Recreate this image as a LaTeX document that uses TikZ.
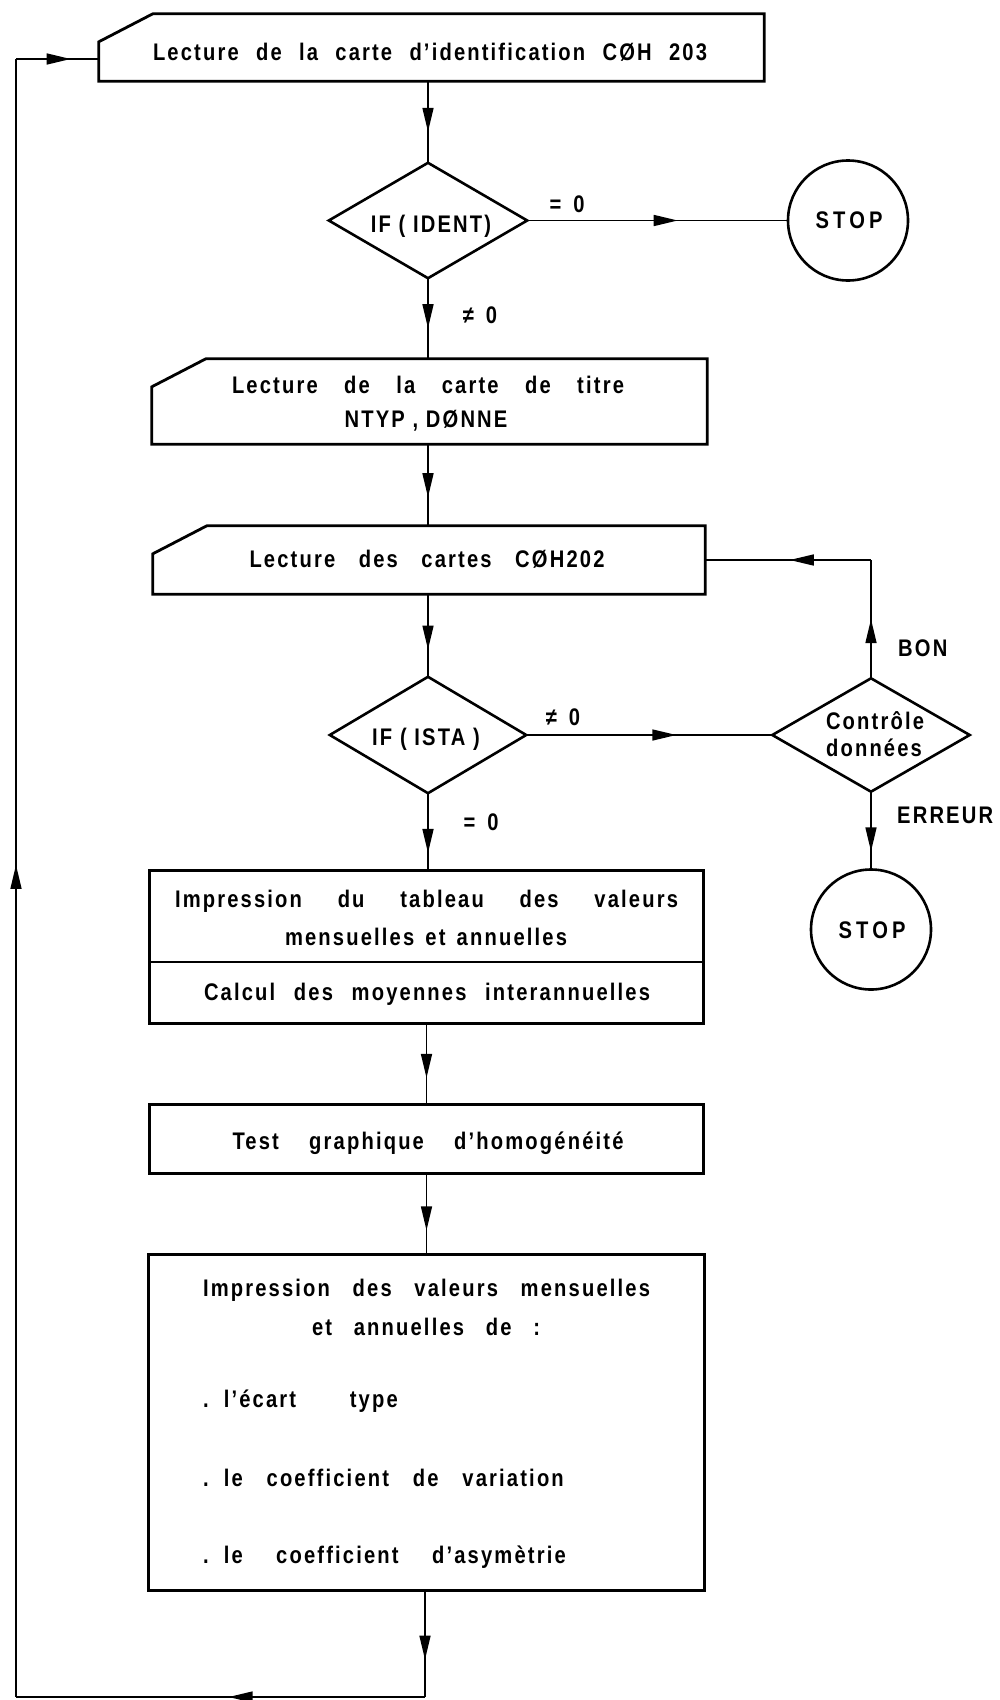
\documentclass[tikz,border=0pt]{standalone}
\usepackage{fontspec}
\setmainfont{Liberation Sans}[FakeStretch=0.84, LetterSpace=9]
\usetikzlibrary{arrows.meta,decorations.markings}

% one line of text spread to a given width
\newcommand\spreadline[2]{\makebox[#1pt][s]{#2}}
% list item: a point, then the line spread to a given width
\newcommand\listline[2]{.\hspace{15pt}\spreadline{#1}{#2}}

\tikzset{
  x=1pt, y=-1pt,
  outline/.style={line width=2.8pt, line join=miter},
  conn/.style={line width=1.5pt},
  frame/.style={rectangle, draw=none, inner sep=0pt},
  ring/.style={circle, draw, line width=2.6pt, inner sep=0pt, minimum size=120pt},
  txt/.style={anchor=base, inner sep=0pt, font=\bfseries\fontsize{24}{28}\selectfont},
  txtl/.style={txt, anchor=base west},
  arrowat/.style={decoration={markings,
      mark=at position #1 with {\arrow{Triangle[length=24pt,width=11pt]}}},
    postaction={decorate}},
}

\begin{document}
\begin{tikzpicture}
\useasboundingbox (0,0) rectangle (999,1700);
\fill[white] (0,0) rectangle (999,1700);

% ---- frames -------------------------------------------------------
\node[frame, minimum width=665pt, minimum height=67pt]  (b1) at (431.5,47.5) {};
\node[frame, minimum width=198pt, minimum height=115pt] (d1) at (428,220.5) {};
\node[ring] (s1) at (848,220.5) {};
\node[frame, minimum width=555pt, minimum height=85pt]  (b2) at (429.5,401.5) {};
\node[frame, minimum width=552pt, minimum height=68pt]  (b3) at (429,560) {};
\node[frame, minimum width=196pt, minimum height=116pt] (d2) at (428,735) {};
\node[frame, minimum width=197pt, minimum height=113pt] (d3) at (871,735) {};
\node[ring] (s2) at (871,929.5) {};
\node[frame, minimum width=553pt, minimum height=152pt] (b4) at (426.5,947) {};
\node[frame, minimum width=553pt, minimum height=68pt]  (b5) at (426.5,1139) {};
\node[frame, minimum width=555pt, minimum height=335pt] (b6) at (426.5,1422.5) {};

% card-shaped input boxes (cut top-left corner)
\foreach \n in {b1,b2,b3}
  \draw[outline] ([yshift=-28pt]\n.north west) -- ([xshift=54pt]\n.north west)
     -- (\n.north east) -- (\n.south east) -- (\n.south west) -- cycle;
% decision diamonds
\foreach \n in {d1,d2,d3}
  \draw[line width=2.6pt, line join=miter] (\n.north) -- (\n.east) -- (\n.south) -- (\n.west) -- cycle;
% process boxes
\foreach \n in {b4,b5,b6}
  \draw[outline] (\n.north west) rectangle (\n.south east);
\coordinate (split) at (426.5,962);
\draw[outline] (split -| b4.west) -- (split -| b4.east);

% ---- texts --------------------------------------------------------
\node[txt] (t1) at (430,60) {\spreadline{554}{Lecture de la carte d'identification CØH 203}};
\node[txt] (t2) at (431,232) {IF ( IDENT)};
\node[txt] (t3) at (567,212) {=\hspace{12pt}0};
\node[txt] (t4) at (849,228) {S\,T\,O\,P};
\node[txt] (t5) at (480,323) {≠\hspace{12pt}0};
\node[txt] (t6) at (428,393) {\spreadline{392}{Lecture de la carte de titre}};
\node[txt] (t7) at (426,427) {NTYP , DØNNE};
\node[txt] (t8) at (427,567) {\spreadline{355}{Lecture des cartes CØH202}};
\node[txtl] (t9) at (898,656) {BON};
\node[txt] (t10) at (426,745) {IF ( ISTA )};
\node[txt] (t11) at (563,725) {≠\hspace{12pt}0};
\node[txt] (t12) at (875,729) {Contrôle};
\node[txt] (t13) at (874,756) {données};
\node[txtl] (t14) at (897,823) {ERREUR};
\node[txt] (t15) at (481,830) {=\hspace{12pt}0};
\node[txt] (t16) at (872,938) {S\,T\,O\,P};
\node[txt] (t17) at (426.5,907) {\spreadline{503}{Impression du tableau des valeurs}};
\node[txt] (t18) at (426,945) {\spreadline{282}{mensuelles et annuelles}};
\node[txt] (t19) at (427,1000) {\spreadline{446}{Calcul des moyennes interannuelles}};
\node[txt] (t20) at (428,1149) {\spreadline{391}{Test graphique d'homogénéité}};
\node[txt] (t21) at (426.5,1296) {\spreadline{447}{Impression des valeurs mensuelles}};
\node[txt] (t22) at (426,1335) {\spreadline{228}{et annuelles de :}};
\node[txtl] (t23) at (203,1407) {\listline{174}{l'écart type}};
\node[txtl] (t24) at (203,1486) {\listline{340}{le coefficient de variation}};
\node[txtl] (t25) at (203,1563) {\listline{342}{le coefficient d'asymètrie}};

% ---- connectors ---------------------------------------------------
\draw[conn, arrowat=0.62] (d1.north |- b1.south) -- (d1.north);
\draw[conn, arrowat=0.58] (d1.east) -- (s1.west);
\draw[conn, arrowat=0.62] (d1.south) -- (d1.south |- b2.north);
\draw[conn, arrowat=0.65] (d1.north |- b2.south) -- (d1.north |- b3.north);
\draw[conn, arrowat=0.67] (d2.north |- b3.south) -- (d2.north);
\draw[conn, arrowat=0.77] (d2.south) -- (d2.south |- b4.north);
\draw[conn, arrowat=0.61] (d2.east) -- (d3.west);
\coordinate (r1) at (d3.north |- b3.east);
\draw[conn, arrowat=0.50] (d3.north) -- (r1);
\draw[conn, arrowat=0.49] (r1) -- (b3.east);
\draw[conn, arrowat=0.78] (d3.south) -- (s2.north);
\draw[conn, arrowat=0.67] (b4.south) -- (b5.north);
\draw[conn, arrowat=0.70] (b5.south) -- (b6.north);
% return loop to the first card
\coordinate (l1) at (425,1697);
\coordinate (l2) at (16,1697);
\coordinate (l3) at (16,59);
\draw[conn, arrowat=0.65] (b6.south -| l1) -- (l1);
\draw[conn, arrowat=0.48] (l1) -- (l2);
\draw[conn, arrowat=0.508] (l2) -- (l3);
\draw[conn, arrowat=0.66] (l3) -- (l3 -| b1.west);
\end{tikzpicture}
\end{document}
